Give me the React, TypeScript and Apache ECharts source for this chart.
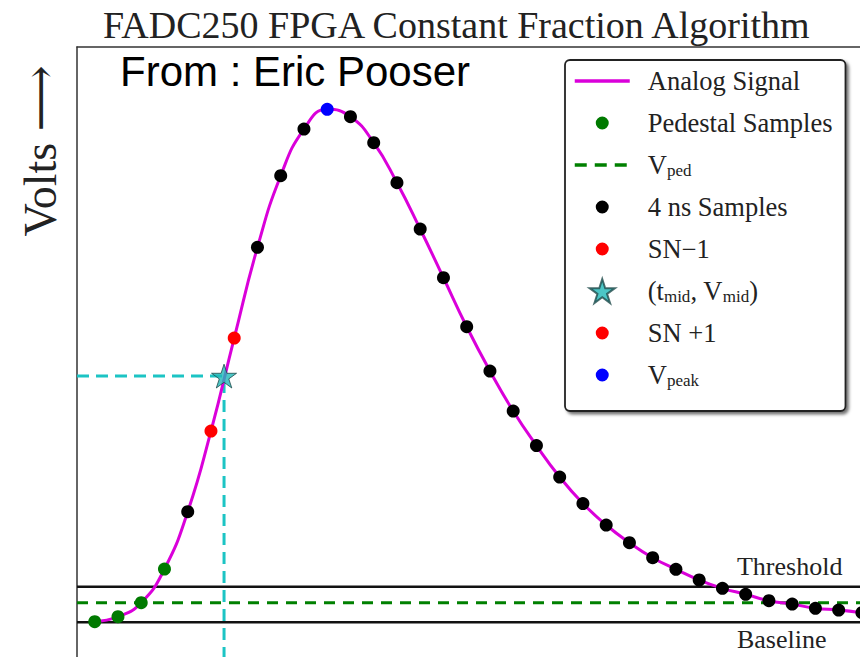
import React, { useEffect, useRef } from "react";
import * as echarts from "echarts";

const titleText = "FADC250 FPGA Constant Fraction Algorithm";
const creditText = "From : Eric Pooser";
const yAxisTitle = "Volts \u27F6";

// 4 ns samples (time in ns, amplitude in arbitrary volt units, baseline = 0, peak = 100)
const sampleTimesNs = [
  0, 4, 8, 12, 16, 20, 24, 28, 32, 36, 40, 44, 48, 52, 56, 60, 64,
  68, 72, 76, 80, 84, 88, 92, 96, 100, 104, 108, 112, 116, 120, 124, 128, 132,
];
const sampleVolts = [
  0.12, 1.09, 3.82, 10.39, 21.56, 37.29, 55.42, 73.1, 87.06, 96.16, 100.0,
  98.56, 93.49, 85.69, 76.67, 67.17, 57.62, 48.99, 41.19, 34.46, 28.32,
  23.16, 18.97, 15.52, 12.59, 10.33, 8.25, 6.63, 5.46, 4.21, 3.57, 2.73,
  2.4, 1.87,
];
// role of each sample
const sampleRoles = [
  "ped", "ped", "ped", "ped", "sample", "snm1", "snp1", "sample", "sample",
  "sample", "peak", "sample", "sample", "sample", "sample", "sample",
  "sample", "sample", "sample", "sample", "sample", "sample", "sample",
  "sample", "sample", "sample", "sample", "sample", "sample", "sample",
  "sample", "sample", "sample", "sample",
];

const pedestalLevel = 3.82;
const thresholdLevel = 6.94;
const baselineLevel = 0;
const tMid = 22.25;
const vMid = 48.0;

const xRange = [-3.05, 131.67];
const yRange = [-6.76, 112.15];

const labelTimeNs = 110.5;

const legendNames = [
  "Analog Signal",
  "Pedestal Samples",
  "Vped",
  "4 ns Samples",
  "SN\u22121",
  "tmid",
  "SN+1",
  "Vpeak",
];
const legendLabels: Record<string, string> = {
  "Analog Signal": "Analog Signal",
  "Pedestal Samples": "Pedestal Samples",
  Vped: "V{sub|ped}",
  "4 ns Samples": "4 ns Samples",
  "SN\u22121": "SN\u22121",
  tmid: "(t{sub|mid}, V{sub|mid})",
  "SN+1": "SN +1",
  Vpeak: "V{sub|peak}",
};

const SERIF = "'Liberation Serif', 'DejaVu Serif', serif";
const SANS = "'Liberation Sans', Arial, sans-serif";

const circleIcon =
  "path://M0,0L0.01,0.01M24,24L23.99,23.99M5.5,12A6.5,6.5,0,1,1,18.5,12A6.5,6.5,0,1,1,5.5,12Z";
const starPath =
  "path://M50,2L61.17,36.63L97.55,36.55L68.07,57.87L79.39,92.45L50,71L20.61,92.45L31.93,57.87L2.45,36.55L38.83,36.63Z";

const MAGENTA = "#da00da";

function pts(role: string) {
  const out: number[][] = [];
  sampleRoles.forEach((r, i) => {
    if (r === role) out.push([sampleTimesNs[i], sampleVolts[i]]);
  });
  return out;
}

export default function App() {
  const ref = useRef<HTMLDivElement>(null);
  useEffect(() => {
    if (!ref.current) return;
    const chart = echarts.init(ref.current, undefined, { renderer: "svg" });
    const [xMin, xMax] = xRange;
    const [yMin, yMax] = yRange;
    const hLine = (name: string, v: number, color: string, width: number, type: any) => ({
      name,
      type: "line",
      data: [
        [xMin, v],
        [xMax, v],
      ],
      symbol: "none",
      lineStyle: { color, width, type },
      itemStyle: { color },
      silent: true,
    });
    const scatter = (name: string, role: string, color: string, extra: any = {}) => ({
      name,
      type: "scatter",
      data: pts(role),
      symbol: "circle",
      symbolSize: 13,
      itemStyle: { color, opacity: 1 },
      clip: false,
      ...extra,
    });
    const option: any = {
      animation: false,
      backgroundColor: "#fff",
      title: [
        {
          text: titleText,
          left: 103,
          top: 6,
          padding: 0,
          textStyle: { fontFamily: SERIF, fontSize: 38, fontWeight: "normal", color: "#222" },
        },
        {
          text: creditText,
          left: 120,
          top: 50,
          padding: 0,
          textStyle: { fontFamily: SANS, fontSize: 42, fontWeight: "normal", color: "#000" },
        },
      ],
      grid: { left: 77, top: 47, right: 0, bottom: 0, containLabel: false },
      xAxis: [
        {
          type: "value",
          min: xMin,
          max: xMax,
          position: "bottom",
          axisLine: { show: false },
          axisTick: { show: false },
          axisLabel: { show: false },
          splitLine: { show: false },
        },
        {
          type: "value",
          min: xMin,
          max: xMax,
          position: "top",
          axisLine: { show: true, lineStyle: { color: "#333", width: 1.5 } },
          axisTick: { show: false },
          axisLabel: { show: false },
          splitLine: { show: false },
        },
      ],
      yAxis: {
        type: "value",
        min: yMin,
        max: yMax,
        axisLine: { show: true, onZero: false, lineStyle: { color: "#333", width: 1.5 } },
        axisTick: { show: false },
        axisLabel: { show: false },
        splitLine: { show: false },
      },
      legend: {
        orient: "vertical",
        left: 565,
        top: 60,
        data: legendNames.map((n) => {
          if (n === "Analog Signal")
            return { name: n, itemStyle: { opacity: 0 }, lineStyle: { width: 3.5 } };
          if (n === "Vped")
            return { name: n, itemStyle: { opacity: 0 }, lineStyle: { width: 3.5, type: [12, 8] } };
          if (n === "tmid") return { name: n, icon: starPath };
          return { name: n, icon: circleIcon };
        }),
        itemWidth: 55,
        itemHeight: 24,
        itemGap: 14,
        padding: [7, 13, 22, 8],
        backgroundColor: "#fff",
        borderColor: "#222",
        borderWidth: 1.8,
        borderRadius: 5,
        shadowColor: "rgba(0,0,0,0.55)",
        shadowBlur: 3,
        shadowOffsetX: 2.5,
        shadowOffsetY: 2.5,
        selectedMode: false,
        formatter: (name: string) => legendLabels[name] || name,
        textStyle: {
          fontFamily: SERIF,
          fontSize: 26.5,
          color: "#222",
          lineHeight: 28,
          padding: [0, 0, 0, 13],
          rich: {
            sub: { fontFamily: SERIF, fontSize: 17, color: "#222", lineHeight: 10, verticalAlign: "bottom" },
          },
        },
      },
      series: [
        hLine("Threshold", thresholdLevel, "#111", 2.6, "solid"),
        hLine("Baseline", baselineLevel, "#111", 2.6, "solid"),
        hLine("Vped", pedestalLevel, "#008000", 3, [11, 8]),
        {
          name: "cfdGuide",
          type: "line",
          data: [
            [xMin, vMid],
            [tMid, vMid],
            [tMid, yMin],
          ],
          symbol: "none",
          lineStyle: { color: "#1cc4c4", width: 3, type: [12, 7] },
          silent: true,
        },
        {
          name: "Analog Signal",
          type: "line",
          data: sampleTimesNs.map((t, i) => [t, sampleVolts[i]]),
          smooth: true,
          symbol: "none",
          lineStyle: { color: MAGENTA, width: 3 },
          itemStyle: { color: MAGENTA },
          z: 3,
        },
        scatter("Pedestal Samples", "ped", "#007a00", { z: 4 }),
        scatter("4 ns Samples", "sample", "#000", { z: 4 }),
        scatter("SN\u22121", "snm1", "#ff0000", { z: 4 }),
        {
          name: "tmid",
          type: "scatter",
          data: [[tMid, vMid]],
          symbol: starPath,
          symbolSize: 25,
          symbolKeepAspect: true,
          itemStyle: { color: "#1fb8b8", borderColor: "#1e4a4a", borderWidth: 1 },
          z: 5,
        },
        scatter("SN+1", "snp1", "#ff0000", { z: 4 }),
        scatter("Vpeak", "peak", "#0000ff", { z: 4 }),
      ],
    };
    chart.setOption(option);
    const thrPx = chart.convertToPixel({ gridIndex: 0 }, [labelTimeNs, thresholdLevel]) as number[];
    const basePx = chart.convertToPixel({ gridIndex: 0 }, [labelTimeNs, baselineLevel]) as number[];
    chart.setOption({
      graphic: [
        {
          id: "ylabel",
          type: "text",
          x: 40,
          y: 151,
          rotation: Math.PI / 2,
          style: {
            text: yAxisTitle,
            fontFamily: SERIF,
            fontSize: 46,
            fill: "#222",
            align: "center",
            verticalAlign: "middle",
          },
        },
        {
          id: "thr",
          type: "text",
          x: thrPx[0],
          y: thrPx[1] - 20,
          style: {
            text: "Threshold",
            fontFamily: SERIF,
            fontSize: 26,
            fill: "#222",
            align: "left",
            verticalAlign: "middle",
          },
        },
        {
          id: "base",
          type: "text",
          x: basePx[0],
          y: basePx[1] + 17,
          style: {
            text: "Baseline",
            fontFamily: SERIF,
            fontSize: 26,
            fill: "#222",
            align: "left",
            verticalAlign: "middle",
          },
        },
      ],
    });
    return () => chart.dispose();
  }, []);
  return (
    <div
      ref={ref}
      style={{ position: "fixed", left: 0, top: 0, width: 860, height: 657, background: "#fff" }}
    />
  );
}
